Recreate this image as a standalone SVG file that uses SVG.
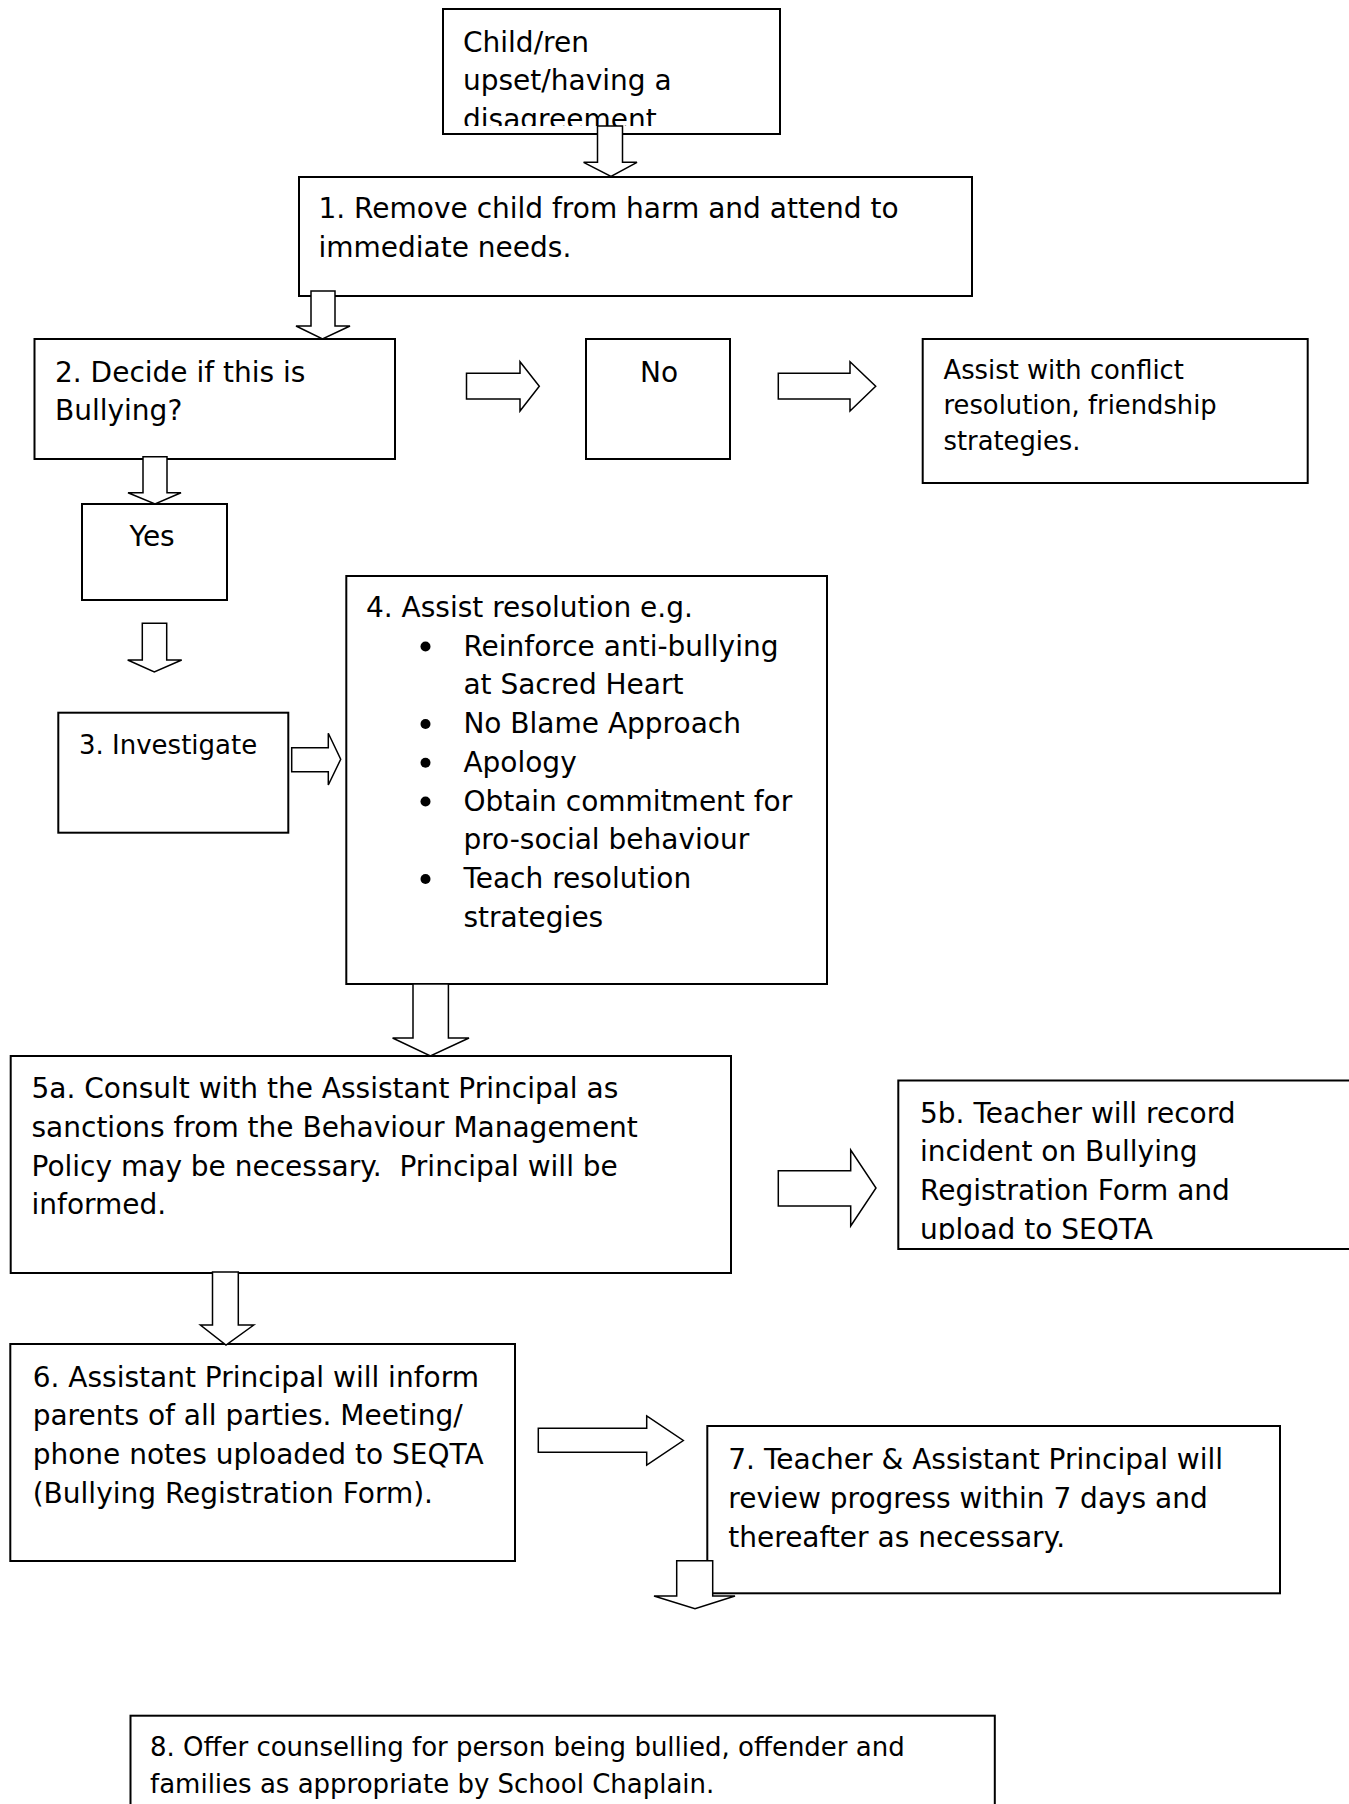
<svg xmlns="http://www.w3.org/2000/svg" width="1349" height="1804" viewBox="0 0 1349 1804">
<style>
.box{fill:#fff;stroke:#000;stroke-width:2}
.arr{fill:#fff;stroke:#000;stroke-width:1.5;stroke-linejoin:miter}
text{font-family:"DejaVu Sans","Verdana",sans-serif;fill:#000}
.t28{font-size:28px}
.t26{font-size:26px}
.t25{font-size:25.8px}
</style>
<defs>
<clipPath id="clipChild"><rect x="443" y="9" width="337" height="117"/></clipPath>
<clipPath id="clip5b"><rect x="898" y="1080" width="451" height="160"/></clipPath>
</defs>
<rect width="1349" height="1804" fill="#fff"/>
<g id="nodes">
<g id="n-start">
<rect class="box" x="443" y="9" width="337" height="125"/>
<g clip-path="url(#clipChild)">
<text class="t28" x="463" y="51.7">Child/ren</text>
<text class="t28" x="463" y="90.4">upset/having a</text>
<text class="t28" x="463" y="129.2">disagreement</text>
</g>
</g>
<g id="n1">
<rect class="box" x="299" y="177" width="673" height="119"/>
<text class="t28" x="318.5" y="218.3">1. Remove child from harm and attend to</text>
<text class="t28" x="318.5" y="257">immediate needs.</text>
</g>
<g id="n2">
<rect class="box" x="34.5" y="339" width="360.5" height="120"/>
<text class="t28" x="55" y="381.7">2. Decide if this is</text>
<text class="t28" x="55" y="420.4">Bullying?</text>
</g>
<g id="n-no">
<rect class="box" x="586" y="339" width="144" height="120"/>
<text class="t28" x="640" y="381.7">No</text>
</g>
<g id="n-conflict">
<rect class="box" x="922.7" y="339" width="385" height="144"/>
<text class="t25" x="943.5" y="378.5">Assist with conflict</text>
<text class="t25" x="943.5" y="414.2">resolution, friendship</text>
<text class="t25" x="943.5" y="449.8">strategies.</text>
</g>
<g id="n-yes">
<rect class="box" x="82" y="504" width="145" height="96"/>
<text class="t28" x="129.5" y="546">Yes</text>
</g>
<g id="n3">
<rect class="box" x="58.3" y="712.7" width="230" height="120"/>
<text class="t26" x="79" y="754">3. Investigate</text>
</g>
<g id="n4">
<rect class="box" x="346.3" y="576" width="480.7" height="408"/>
<text class="t28" x="366" y="616.7">4. Assist resolution e.g.</text>
<circle cx="425.5" cy="646.5" r="5"/>
<text class="t28" x="463.4" y="655.5">Reinforce anti-bullying</text>
<text class="t28" x="463.4" y="694.2">at Sacred Heart</text>
<circle cx="425.5" cy="724" r="5"/>
<text class="t28" x="463.4" y="733">No Blame Approach</text>
<circle cx="425.5" cy="762.7" r="5"/>
<text class="t28" x="463.4" y="771.7">Apology</text>
<circle cx="425.5" cy="801.5" r="5"/>
<text class="t28" x="463.4" y="810.5">Obtain commitment for</text>
<text class="t28" x="463.4" y="849.2">pro-social behaviour</text>
<circle cx="425.5" cy="879" r="5"/>
<text class="t28" x="463.4" y="888">Teach resolution</text>
<text class="t28" x="463.4" y="926.7">strategies</text>
</g>
<g id="n5a">
<rect class="box" x="10.7" y="1056" width="720.3" height="217"/>
<text class="t28" x="31.5" y="1098">5a. Consult with the Assistant Principal as</text>
<text class="t28" x="31.5" y="1136.7">sanctions from the Behaviour Management</text>
<text class="t28" x="31.5" y="1175.5">Policy may be necessary.&#160; Principal will be</text>
<text class="t28" x="31.5" y="1214.2">informed.</text>
</g>
<g id="n5b">
<rect class="box" x="898.3" y="1080.5" width="460" height="168.5"/>
<g clip-path="url(#clip5b)">
<text class="t28" x="920" y="1122.5">5b. Teacher will record</text>
<text class="t28" x="920" y="1161.2">incident on Bullying</text>
<text class="t28" x="920" y="1200">Registration Form and</text>
<text class="t28" x="920" y="1238.7">upload to SEQTA</text>
</g>
</g>
<g id="n6">
<rect class="box" x="10.3" y="1344" width="504.7" height="217"/>
<text class="t28" x="32.7" y="1386.7">6. Assistant Principal will inform</text>
<text class="t28" x="32.7" y="1425.4">parents of all parties. Meeting/</text>
<text class="t28" x="32.7" y="1464.2">phone notes uploaded to SEQTA</text>
<text class="t28" x="32.7" y="1502.9">(Bullying Registration Form).</text>
</g>
<g id="n7">
<rect class="box" x="707.3" y="1426" width="572.7" height="167.3"/>
<text class="t28" x="728.3" y="1469.3">7. Teacher &amp; Assistant Principal will</text>
<text class="t28" x="728.3" y="1508">review progress within 7 days and</text>
<text class="t28" x="728.3" y="1546.8">thereafter as necessary.</text>
</g>
<g id="n8">
<rect class="box" x="130.5" y="1715.7" width="864.3" height="120"/>
<text class="t26" x="150" y="1756">8. Offer counselling for person being bullied, offender and</text>
<text class="t26" x="150" y="1793.3">families as appropriate by School Chaplain.</text>
</g>
</g>
<g id="connectors">
<path class="arr" d="M597.5,126 L622.5,126 L622.5,162.3 L637,162.3 L611,176.5 L583.6,162.3 L597.5,162.3 Z"/>
<path class="arr" d="M311,291 L335,291 L335,326 L350,326 L322.5,339 L296,326 L311,326 Z"/>
<path class="arr" d="M143,456.7 L167,456.7 L167,492.7 L181,492.7 L155,504 L128,492.7 L143,492.7 Z"/>
<path class="arr" d="M466.5,373.3 L520,373.3 L520,361.7 L539.3,386.3 L520,411 L520,399 L466.5,399 Z"/>
<path class="arr" d="M778.3,373.3 L850,373.3 L850,361.7 L875.7,386.3 L850,411 L850,399 L778.3,399 Z"/>
<path class="arr" d="M142.3,623.3 L166.7,623.3 L166.7,660 L181.7,660 L154.3,672 L127.7,660 L142.3,660 Z"/>
<path class="arr" d="M291.7,747.7 L328.3,747.7 L328.3,733.3 L340.7,759.3 L328.3,785 L328.3,771.7 L291.7,771.7 Z"/>
<path class="arr" d="M413,984 L448.4,984 L448.4,1038 L469,1038 L430.4,1056 L392.6,1038 L413,1038 Z"/>
<path class="arr" d="M778.3,1170.7 L850.7,1170.7 L850.7,1150 L876,1188 L850.7,1226 L850.7,1206 L778.3,1206 Z"/>
<path class="arr" d="M212.5,1272 L238.3,1272 L238.3,1325 L253.8,1325 L226,1345 L200.4,1325 L212.5,1325 Z"/>
<path class="arr" d="M538.3,1428.3 L646.7,1428.3 L646.7,1416 L683.3,1440.5 L646.7,1465 L646.7,1452.3 L538.3,1452.3 Z"/>
<path class="arr" d="M676.7,1560.7 L712.7,1560.7 L712.7,1596 L735,1596 L695,1608.7 L654,1596 L676.7,1596 Z"/>
</g>
</svg>
